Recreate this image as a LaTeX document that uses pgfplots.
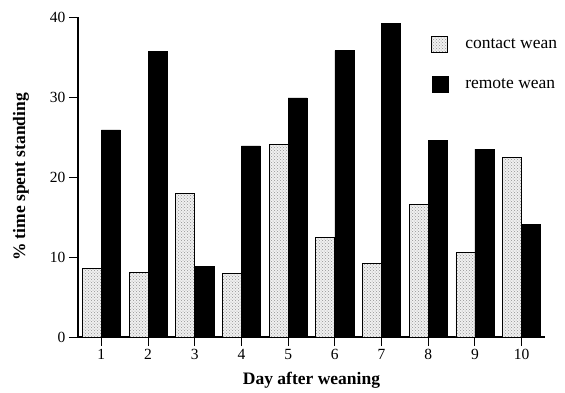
\documentclass[border=0pt]{standalone}
\usepackage{fontspec}
\setmainfont{Liberation Serif}
\usepackage{pgfplots}
\pgfplotsset{compat=1.18}
\usetikzlibrary{patterns}

\pgfplotstableread{
day contact remote
1  8.6  25.9
2  8.1  35.7
3  18.0 8.8
4  7.9  23.9
5  24.1 29.9
6  12.5 35.8
7  9.2  39.2
8  16.6 24.6
9  10.6 23.5
10 22.4 14.1
}\weandata

\begin{document}
\begin{tikzpicture}
\useasboundingbox (-78pt,-55pt) rectangle (487pt,337pt);
\begin{axis}[
  at={(0,0)}, anchor=south west,
  scale only axis, width=467pt, height=320pt,
  xmin=0.5, xmax=10.5, ymin=0, ymax=40,
  axis lines*=left,
  ybar=0pt, bar width=19pt,
  xtick={1,...,10}, ytick={0,10,20,30,40},
  tick align=outside, major tick length=9pt,
  tick style={black, line width=1pt},
  axis line style={black, line width=1.2pt},
  tick label style={font=\fontsize{15.5}{15.5}\selectfont},
  /pgf/number format/assume math mode=true,
  xlabel={Day after weaning},
  ylabel={\% time spent standing},
  label style={font=\bfseries\fontsize{17.5}{17.5}\selectfont},
  xlabel style={at={(axis description cs:0.5,-0.134)}, anchor=center},
  ylabel style={at={(axis description cs:-0.122,0.5)}, anchor=center, rotate=0},
  legend style={draw=none, fill=none, at={(rel axis cs:0.752,0.948)}, anchor=north west,
    font=\fontsize{17.5}{17.5}\selectfont, row sep=23pt, inner sep=2pt},
  legend cell align=left,
  legend image code/.code={\draw[#1] (0pt,-8pt) rectangle (16pt,8pt); \path (31pt,0pt);},
  clip=false,
]
\addplot[draw=black, line width=0.9pt, fill=gray!12,
  postaction={pattern=crosshatch dots, pattern color=gray!85}]
  table[x=day, y=contact] {\weandata};
\addlegendentry{contact wean}
\addplot[draw=black, fill=black]
  table[x=day, y=remote] {\weandata};
\addlegendentry{remote wean}
\end{axis}
\end{tikzpicture}
\end{document}
